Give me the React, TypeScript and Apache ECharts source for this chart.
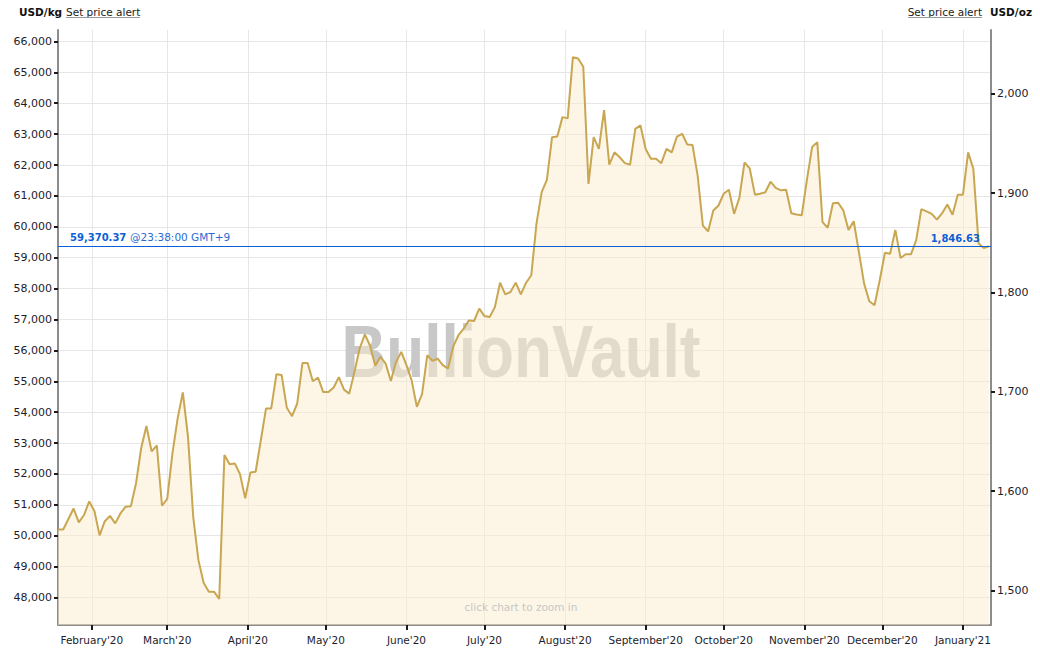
import React, { useEffect, useRef } from "react";
import * as echarts from "echarts";

// Every second day, Jan 19 2020 – Jan 11 2021
const dates = [
  "2020-01-19", "2020-01-21", "2020-01-23", "2020-01-25", "2020-01-27", "2020-01-29", "2020-01-31",
  "2020-02-02", "2020-02-04", "2020-02-06", "2020-02-08", "2020-02-10", "2020-02-12", "2020-02-14",
  "2020-02-16", "2020-02-18", "2020-02-20", "2020-02-22", "2020-02-24", "2020-02-26", "2020-02-28",
  "2020-03-01", "2020-03-03", "2020-03-05", "2020-03-07", "2020-03-09", "2020-03-11", "2020-03-13",
  "2020-03-15", "2020-03-17", "2020-03-19", "2020-03-21", "2020-03-23", "2020-03-25", "2020-03-27",
  "2020-03-29", "2020-03-31",
  "2020-04-02", "2020-04-04", "2020-04-06", "2020-04-08", "2020-04-10", "2020-04-12", "2020-04-14",
  "2020-04-16", "2020-04-18", "2020-04-20", "2020-04-22", "2020-04-24", "2020-04-26", "2020-04-28",
  "2020-04-30",
  "2020-05-02", "2020-05-04", "2020-05-06", "2020-05-08", "2020-05-10", "2020-05-12", "2020-05-14",
  "2020-05-16", "2020-05-18", "2020-05-20", "2020-05-22", "2020-05-24", "2020-05-26", "2020-05-28",
  "2020-05-30",
  "2020-06-01", "2020-06-03", "2020-06-05", "2020-06-07", "2020-06-09", "2020-06-11", "2020-06-13",
  "2020-06-15", "2020-06-17", "2020-06-19", "2020-06-21", "2020-06-23", "2020-06-25", "2020-06-27",
  "2020-06-29",
  "2020-07-01", "2020-07-03", "2020-07-05", "2020-07-07", "2020-07-09", "2020-07-11", "2020-07-13",
  "2020-07-15", "2020-07-17", "2020-07-19", "2020-07-21", "2020-07-23", "2020-07-25", "2020-07-27",
  "2020-07-29", "2020-07-31",
  "2020-08-02", "2020-08-04", "2020-08-06", "2020-08-08", "2020-08-10", "2020-08-12", "2020-08-14",
  "2020-08-16", "2020-08-18", "2020-08-20", "2020-08-22", "2020-08-24", "2020-08-26", "2020-08-28",
  "2020-08-30",
  "2020-09-01", "2020-09-03", "2020-09-05", "2020-09-07", "2020-09-09", "2020-09-11", "2020-09-13",
  "2020-09-15", "2020-09-17", "2020-09-19", "2020-09-21", "2020-09-23", "2020-09-25", "2020-09-27",
  "2020-09-29",
  "2020-10-01", "2020-10-03", "2020-10-05", "2020-10-07", "2020-10-09", "2020-10-11", "2020-10-13",
  "2020-10-15", "2020-10-17", "2020-10-19", "2020-10-21", "2020-10-23", "2020-10-25", "2020-10-27",
  "2020-10-29", "2020-10-31",
  "2020-11-02", "2020-11-04", "2020-11-06", "2020-11-08", "2020-11-10", "2020-11-12", "2020-11-14",
  "2020-11-16", "2020-11-18", "2020-11-20", "2020-11-22", "2020-11-24", "2020-11-26", "2020-11-28",
  "2020-11-30",
  "2020-12-02", "2020-12-04", "2020-12-06", "2020-12-08", "2020-12-10", "2020-12-12", "2020-12-14",
  "2020-12-16", "2020-12-18", "2020-12-20", "2020-12-22", "2020-12-24", "2020-12-26", "2020-12-28",
  "2020-12-30",
  "2021-01-01", "2021-01-03", "2021-01-05", "2021-01-07", "2021-01-09", "2021-01-11",
];

// Gold price, USD per kg
const pricesKg = [
  50200, 50200, 50540, 50880, 50430, 50670, 51110,
  50800, 50010, 50470, 50640, 50400, 50720, 50940, 50950, 51690, 52840, 53550, 52730, 52920, 50970,
  51190, 52660, 53790, 54640, 53200, 50610, 49210, 48480, 48190, 48190, 47950, 52610, 52310, 52340, 51990, 51210,
  52050, 52070, 53090, 54120, 54120, 55230, 55200, 54140, 53870, 54280, 55590, 55590, 55000, 55120, 54650,
  54650, 54800, 55130, 54730, 54600, 55300, 56060, 56520, 56150, 55500, 55790, 55570, 55010, 55620, 55950,
  55520, 55030, 54170, 54580, 55840, 55660, 55730, 55520, 55410, 56130, 56490, 56700, 56970, 56950, 57350,
  57110, 57080, 57400, 58190, 57810, 57890, 58190, 57810, 58190, 58430, 60100, 61120, 61520, 62900, 62920, 63550,
  63510, 65490, 65450, 65180, 61390, 62900, 62520, 63780, 62010, 62410, 62250, 62060, 62010, 63170, 63280,
  62520, 62200, 62200, 62060, 62520, 62410, 62920, 63010, 62660, 62650, 61650, 60040, 59850, 60530, 60690,
  61070, 61200, 60420, 60930, 62080, 61890, 61040, 61070, 61120, 61460, 61260, 61180, 61200, 60440, 60400, 60370,
  61520, 62580, 62740, 60150, 59970, 60760, 60780, 60530, 59900, 60180, 59180, 58160, 57590, 57460, 58270,
  59160, 59130, 59900, 58990, 59110, 59110, 59560, 60570, 60500, 60420, 60230, 60440, 60720, 60390, 61040,
  61040, 62410, 61880, 59470, 59310, 59370.37,
];

const monthTicks = [
  "2020-02-01", "2020-03-01", "2020-04-01", "2020-05-01", "2020-06-01", "2020-07-01",
  "2020-08-01", "2020-09-01", "2020-10-01", "2020-11-01", "2020-12-01", "2021-01-01",
];
const monthNames = [
  "January", "February", "March", "April", "May", "June",
  "July", "August", "September", "October", "November", "December",
];
const kgTicks = [
  48000, 49000, 50000, 51000, 52000, 53000, 54000, 55000, 56000,
  57000, 58000, 59000, 60000, 61000, 62000, 63000, 64000, 65000, 66000,
];
const ozTicks = [1500, 1600, 1700, 1800, 1900, 2000];

const currentKg = 59370.37;
const currentOz = 1846.63;
const currentTime = "23:38:00 GMT+9";
const OZ_PER_KG = 32.1507466;
const KG_MIN = 47110;
const KG_MAX = 66370;
const X_START = "2020-01-19";

const FONT = "'DejaVu Sans', Verdana, sans-serif";

function toTs(s: string): number {
  const [y, m, d] = s.split("-").map(Number);
  return new Date(y, m - 1, d).getTime();
}

export default function App() {
  const ref = useRef<HTMLDivElement>(null);

  useEffect(() => {
    if (!ref.current) return;
    const chart = echarts.init(ref.current, undefined, { renderer: "svg" });
    const monthTs = monthTicks.map(toTs);
    const data = dates.map((d, i) => [toTs(d), pricesKg[i]]);
    const fmt2 = (v: number) =>
      v.toLocaleString("en-US", { minimumFractionDigits: 2, maximumFractionDigits: 2 });

    chart.setOption({
      animation: false,
      textStyle: { fontFamily: FONT },
      grid: { left: 58, right: 49, top: 30, bottom: 29, containLabel: false },
      xAxis: {
        type: "value",
        scale: true,
        min: toTs(X_START),
        max: new Date(2021, 0, 11, 19).getTime(),
        axisLine: { show: true, lineStyle: { color: "#8c8c8c", width: 2 } },
        axisTick: { show: true, customValues: monthTs, length: 5, lineStyle: { color: "#1a1a1a", width: 2 } },
        axisLabel: {
          customValues: monthTs,
          color: "#1c1c2c",
          fontSize: 10.5,
          fontFamily: FONT,
          margin: 9,
          formatter: (v: number) => {
            const d = new Date(v);
            return monthNames[d.getMonth()] + "'" + String(d.getFullYear()).slice(2);
          },
        },
        splitLine: { show: true, lineStyle: { color: "#e6e6e6", width: 1 } },
      },
      yAxis: [
        {
          type: "value",
          position: "left",
          min: KG_MIN,
          max: KG_MAX,
          axisLine: { show: true, lineStyle: { color: "#8c8c8c", width: 2 } },
          axisTick: { show: true, customValues: kgTicks, length: 4, lineStyle: { color: "#1a1a1a", width: 2 } },
          axisLabel: {
            customValues: kgTicks,
            color: "#1c1c2c",
            fontSize: 11,
            fontFamily: FONT,
            margin: 6,
            formatter: (v: number) => v.toLocaleString("en-US"),
          },
          splitLine: { show: true, lineStyle: { color: "#e6e6e6", width: 1 } },
        },
        {
          type: "value",
          position: "right",
          min: KG_MIN / OZ_PER_KG,
          max: KG_MAX / OZ_PER_KG,
          axisLine: { show: true, lineStyle: { color: "#8c8c8c", width: 2 } },
          axisTick: { show: true, customValues: ozTicks, length: 4, lineStyle: { color: "#1a1a1a", width: 2 } },
          axisLabel: {
            customValues: ozTicks,
            color: "#1c1c2c",
            fontSize: 11,
            fontFamily: FONT,
            margin: 6,
            formatter: (v: number) => Math.round(v).toLocaleString("en-US"),
          },
          splitLine: { show: false },
        },
      ],
      graphic: [
        {
          type: "text",
          x: 521,
          y: 351,
          scaleX: 0.84,
          z: 1,
          silent: true,
          style: {
            text: "BullionVault",
            x: 0,
            y: 0,
            textAlign: "center",
            textVerticalAlign: "middle",
            font: "bold 74px 'Liberation Sans', Arial, sans-serif",
            fill: "#c8c8c8",
          },
        },
        {
          type: "text",
          x: 521,
          y: 607,
          z: 10,
          silent: true,
          style: {
            text: "click chart to zoom in",
            textAlign: "center",
            textVerticalAlign: "middle",
            font: "10.5px " + FONT,
            fill: "#c6c6c6",
          },
        },
        {
          type: "text",
          x: 19,
          y: 12,
          style: { text: "USD/kg", textVerticalAlign: "middle", font: "bold 10.5px " + FONT, fill: "#111" },
        },
        {
          type: "text",
          x: 66,
          y: 12,
          style: { text: "Set price alert", textVerticalAlign: "middle", font: "10.5px " + FONT, fill: "#222" },
        },
        {
          type: "line",
          shape: { x1: 66, y1: 17.5, x2: 140, y2: 17.5 },
          style: { stroke: "#9a9a9a", lineWidth: 1 },
        },
        {
          type: "text",
          x: 982,
          y: 12,
          style: {
            text: "Set price alert",
            textAlign: "right",
            textVerticalAlign: "middle",
            font: "10.5px " + FONT,
            fill: "#222",
          },
        },
        {
          type: "line",
          shape: { x1: 908, y1: 17.5, x2: 982, y2: 17.5 },
          style: { stroke: "#9a9a9a", lineWidth: 1 },
        },
        {
          type: "text",
          x: 1032,
          y: 12,
          style: {
            text: "USD/oz",
            textAlign: "right",
            textVerticalAlign: "middle",
            font: "bold 10.5px " + FONT,
            fill: "#111",
          },
        },
      ],
      series: [
        {
          type: "line",
          yAxisIndex: 0,
          data,
          showSymbol: false,
          symbol: "none",
          z: 2,
          lineStyle: { color: "#c9a651", width: 2 },
          itemStyle: { color: "#c9a651" },
          areaStyle: { color: "rgba(252,238,208,0.72)", origin: "start" },
          markLine: {
            silent: true,
            symbol: ["none", "none"],
            lineStyle: { color: "#0b5fd8", width: 1, type: "solid" },
            emphasis: { disabled: true },
            data: [
              {
                yAxis: currentKg,
                label: {
                  show: true,
                  position: "insideStartTop",
                  distance: [12, 3],
                  formatter: "{b|" + fmt2(currentKg) + "} {n|@" + currentTime + "}",
                  rich: {
                    b: { fontWeight: "bold", fontSize: 10, color: "#0b5fd8", fontFamily: FONT },
                    n: { fontSize: 10.5, color: "#2a6ad8", fontFamily: FONT },
                  },
                },
              },
              {
                yAxis: currentKg,
                label: {
                  show: true,
                  position: "insideEndTop",
                  distance: [11, 3],
                  formatter: "{b|" + fmt2(currentOz) + "}",
                  rich: {
                    b: { fontWeight: "bold", fontSize: 10, color: "#0b5fd8", fontFamily: FONT },
                  },
                },
              },
            ],
          },
        },
      ],
    });

    return () => chart.dispose();
  }, []);

  return (
    <div
      ref={ref}
      style={{ position: "absolute", left: 0, top: 0, width: 1040, height: 654, background: "#fff" }}
    />
  );
}
